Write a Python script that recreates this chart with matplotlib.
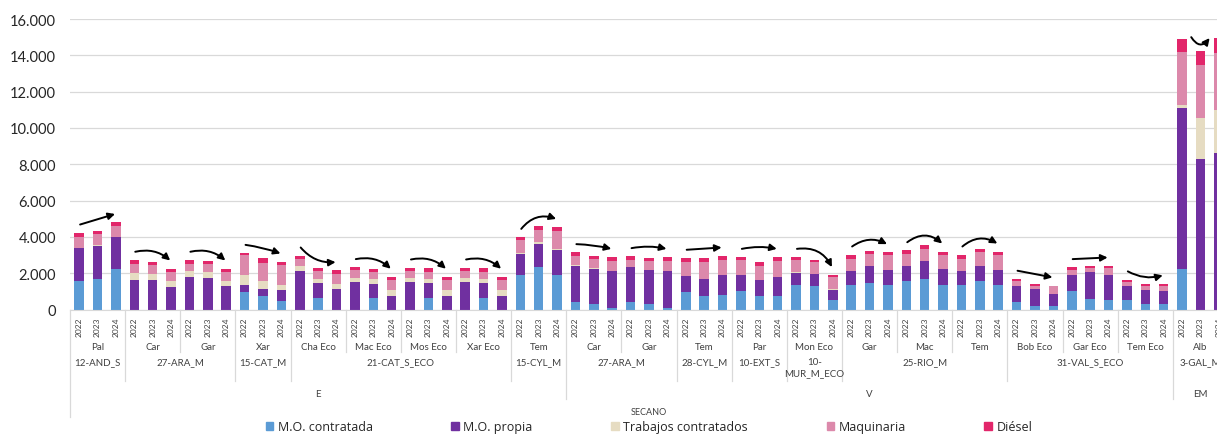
import matplotlib.pyplot as plt
import numpy as np
from matplotlib.patches import Patch
from matplotlib.transforms import blended_transform_factory

plt.rcParams['font.family'] = ['Lato', 'DejaVu Sans']

years = ['2022', '2023', '2024']
farms = ['Pal', 'Car', 'Gar', 'Xar', 'Cha Eco', 'Mac Eco', 'Mos Eco', 'Xar Eco', 'Tem',
         'Car', 'Gar', 'Tem', 'Par', 'Mon Eco', 'Gar', 'Mac', 'Tem', 'Bob Eco', 'Gar Eco',
         'Tem Eco', 'Alb']
regions = ['12-AND_S', '27-ARA_M', '27-ARA_M', '15-CAT_M', '21-CAT_S_ECO', '21-CAT_S_ECO',
           '21-CAT_S_ECO', '21-CAT_S_ECO', '15-CYL_M', '27-ARA_M', '27-ARA_M', '28-CYL_M',
           '10-EXT_S', '10-\nMUR_M_ECO', '25-RIO_M', '25-RIO_M', '25-RIO_M', '31-VAL_S_ECO',
           '31-VAL_S_ECO', '31-VAL_S_ECO', '3-GAL_M']
zones = ['E'] * 9 + ['V'] * 11 + ['EM']
system = 'SECANO'

series = ['M.O. contratada', 'M.O. propia', 'Trabajos contratados', 'Maquinaria', 'Diésel']
mo_contratada = [1590, 1680, 2250, 0, 0, 0, 0, 0, 0, 990, 730, 475,
                 0, 640, 0, 0, 640, 0, 0, 640, 0, 0, 640, 0,
                 1885, 2325, 1920, 420, 330, 90, 400, 330, 75, 950, 770, 825,
                 1040, 730, 770, 1370, 1280, 550, 1370, 1465, 1370, 1590, 1700, 1370,
                 1370, 1555, 1370, 420, 220, 220, 1040, 600, 550, 550, 310, 310,
                 2220, 0, 0]
mo_propia = [1795, 1830, 1740, 1650, 1650, 1245, 1775, 1740, 1280, 380, 405, 625,
             2105, 825, 1135, 1520, 790, 770, 1520, 825, 770, 1520, 825, 770,
             1170, 1295, 1375, 1995, 1920, 2015, 1925, 1830, 2030, 880, 930, 1095,
             845, 920, 1005, 640, 660, 550, 735, 915, 825, 790, 955, 860,
             735, 860, 825, 860, 915, 640, 880, 1470, 1370, 730, 790, 695,
             8860, 8300, 8600]
trabajos = [20, 20, 20, 360, 325, 345, 330, 310, 310, 550, 420, 270,
            275, 235, 295, 220, 255, 290, 220, 220, 290, 220, 220, 290,
            55, 80, 55, 55, 20, 20, 0, 0, 0, 0, 0, 0,
            0, 0, 0, 30, 35, 30, 0, 0, 0, 0, 0, 0,
            0, 0, 0, 0, 0, 0, 0, 0, 0, 0, 0, 0,
            180, 2230, 2390]
maquinaria = [605, 620, 565, 515, 495, 495, 420, 455, 495, 1060, 1025, 1060,
              400, 405, 530, 420, 385, 550, 380, 400, 550, 380, 400, 550,
              695, 690, 950, 460, 510, 530, 420, 495, 550, 785, 915, 790,
              825, 765, 880, 670, 640, 645, 695, 695, 785, 695, 695, 790,
              695, 750, 825, 275, 185, 420, 275, 220, 370, 220, 220, 315,
              2920, 2960, 3110]
diesel = [220, 190, 235, 205, 150, 165, 205, 165, 165, 130, 260, 205,
          185, 185, 200, 165, 160, 185, 185, 185, 185, 185, 220, 185,
          185, 220, 240, 220, 185, 235, 185, 185, 235, 225, 225, 255,
          180, 185, 235, 180, 130, 110, 220, 165, 170, 180, 180, 165,
          220, 185, 165, 130, 110, 40, 130, 125, 125, 150, 110, 110,
          740, 730, 850]

colors = ['#5B9BD5', '#7030A0', '#E6DCC2', '#DC89AB', '#E2266A']
# curvature of the trend arrow drawn over each farm
arrow_rad = [0, -0.25, -0.25, -0.05, 0.25, -0.25, -0.25, -0.25, -0.35,
             -0.05, -0.1, 0, -0.1, -0.35, -0.3, -0.4, -0.35, 0, 0, 0.2, 0.7]

W, H = 1217, 435
fig = plt.figure(figsize=(W / 100, H / 100), dpi=100)
ax = fig.add_axes([70 / W, 1 - 310.5 / H, 1158 / W, 290.5 / H])

values = np.array([mo_contratada, mo_propia, trabajos, maquinaria, diesel])
x = np.arange(values.shape[1])
bottom = np.zeros(len(x))
for name, vals, col in zip(series, values, colors):
    ax.bar(x, vals, bottom=bottom, width=0.52, color=col, label=name, zorder=2)
    bottom += vals
totals = bottom

ax.set_xlim(-0.5, len(x) - 0.5)
ax.set_ylim(0, 16000)
ticks = np.arange(0, 16001, 2000)
ax.set_yticks(ticks)
ax.set_yticklabels([f'{t:,.0f}'.replace(',', '.') for t in ticks], fontsize=10.5)
ax.tick_params(axis='y', length=0, pad=10, colors='#262626')
ax.yaxis.grid(True, color='#d9d9d9', lw=0.9)
ax.set_axisbelow(True)
for s in ['top', 'right', 'left']:
    ax.spines[s].set_visible(False)
ax.spines['bottom'].set_color('#d9d9d9')

ax.set_xticks(x)
ax.set_xticklabels(years * len(farms), rotation=90, fontsize=6, color='#404040')
ax.tick_params(axis='x', length=0, pad=5)

# trend arrows
for g, rad in enumerate(arrow_rad):
    i0, i2 = 3 * g, 3 * g + 2
    if g == len(arrow_rad) - 1:
        start = (i0 + 0.5, totals[i0] + 80)
        end = (i0 + 1.5, totals[i2])
    else:
        start = (i0 + 0.05, totals[i0] + 450)
        end = (i0 + 1.95, totals[i2] + 450)
    ax.annotate('', xy=end, xytext=start,
                arrowprops=dict(arrowstyle='-|>', color='black', lw=1.4, mutation_scale=10,
                                shrinkA=0, shrinkB=0,
                                connectionstyle=f'arc3,rad={rad}'))

# multi-level category axis
tr = blended_transform_factory(ax.transData, fig.transFigure)
fy = lambda p: 1 - p / H
sep_kw = dict(transform=tr, color='#d9d9d9', lw=0.9, clip_on=False)
n = len(farms)
for b in range(n + 1):
    xb = 3 * b - 0.5
    if b == 0 or b == n:
        y_end = 418
    elif zones[b] != zones[b - 1]:
        y_end = 400
    elif regions[b] != regions[b - 1]:
        y_end = 382
    else:
        y_end = 353
    ax.plot([xb, xb], [fy(310.5), fy(y_end)], **sep_kw)

lab_kw = dict(transform=tr, ha='center', color='#404040', clip_on=False)
for g, f in enumerate(farms):
    ax.text(3 * g + 1, fy(348), f, va='center', fontsize=7, **lab_kw)


def runs(keys):
    out, start = [], 0
    for i in range(1, len(keys) + 1):
        if i == len(keys) or keys[i] != keys[start]:
            out.append((start, i - 1, keys[start]))
            start = i
    return out


for a, b, key in runs(list(zip(zones, regions))):
    ax.text((3 * a + 3 * b + 2) / 2, fy(358), key[1], va='top', fontsize=7,
            linespacing=1.25, **lab_kw)
for a, b, z in runs(zones):
    ax.text((3 * a + 3 * b + 2) / 2, fy(395), z, va='center', fontsize=7, **lab_kw)
ax.text((len(x) - 1) / 2, fy(413), system, va='center', fontsize=6.5, **lab_kw)

handles = [Patch(color=c, label=s) for s, c in zip(series, colors)]
fig.legend(handles=handles, loc='center', bbox_to_anchor=((70 + 1158 / 2) / W, fy(428)),
           ncol=5, frameon=False, prop={'family': 'Open Sans', 'size': 9},
           handlelength=0.6, handleheight=0.6, handletextpad=0.35, columnspacing=6.3,
           labelcolor='#262626')

fig.savefig('out.png', dpi=100)
